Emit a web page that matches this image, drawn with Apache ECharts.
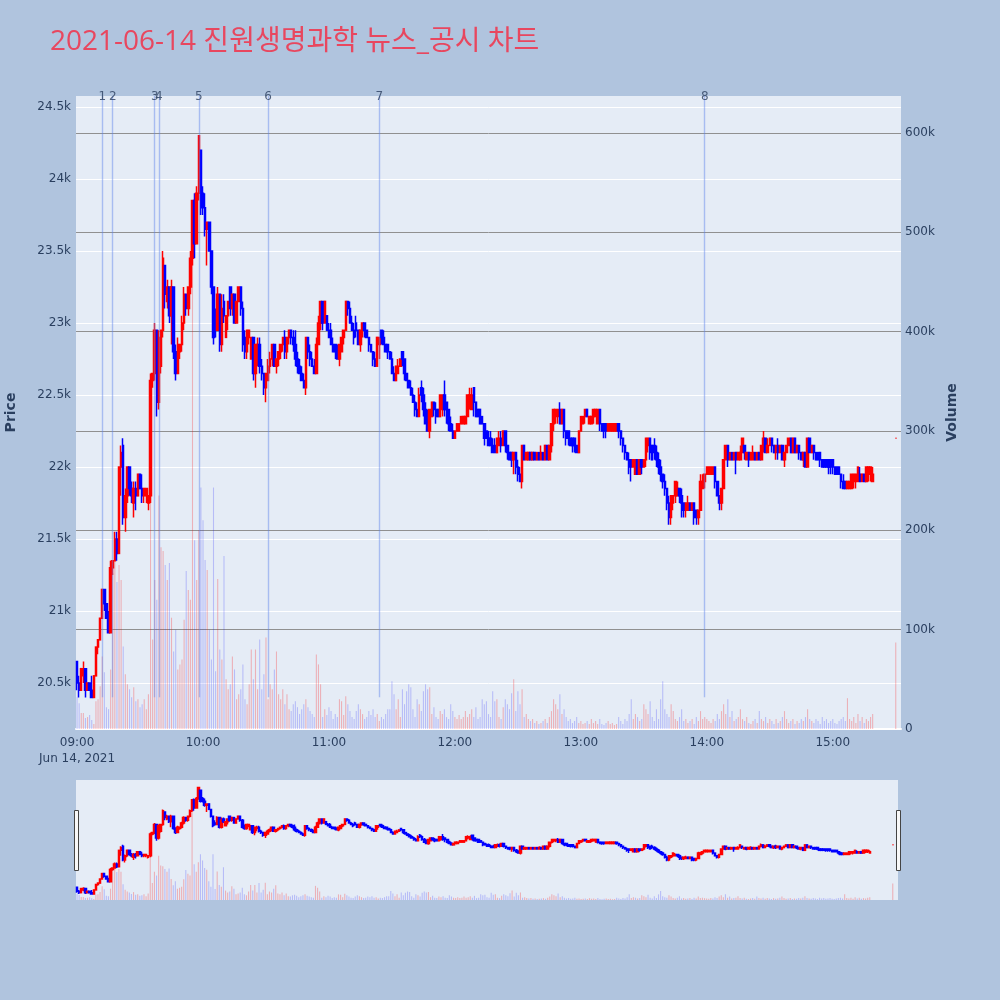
<!DOCTYPE html>
<html>
<head>
<meta charset="utf-8">
<script src="https://cdn.jsdelivr.net/npm/echarts@6/dist/echarts.min.js"></script>
<style>
html,body{margin:0;padding:0;background:#B0C4DE;}
#chart{width:1000px;height:1000px;}
</style>
</head>
<body>
<div id="chart"></div>
<script>
// ---------------- data ----------------
const chartTitle = '2021-06-14 진원생명과학 뉴스_공시 차트';
const dateLabel = 'Jun 14, 2021';
const slotCount = 393;            // one-minute slots from 09:00 to 15:32
// candles[i] = [open, close, low, high] for minute i after 09:00
const candles = [
[20650,20500,20450,20650],[20500,20450,20400,20550],[20450,20600,20450,20600],[20550,20600,20500,20650],[20600,20450,20400,20600],
[20450,20500,20450,20500],[20500,20450,20450,20500],[20450,20400,20400,20550],[20400,20550,20400,20550],[20550,20750,20550,20750],
[20750,20800,20700,20800],[20800,20950,20800,20950],[20950,21150,20950,21150],[21150,21050,21000,21150],[21050,20950,20950,21050],
[20950,20850,20850,21000],[20850,21300,20850,21350],[21300,21350,21250,21350],[21350,21500,21350,21550],[21500,21400,21350,21550],
[21400,22000,21400,22000],[22000,22100,21800,22150],[22150,21650,21600,22200],[21650,21800,21550,21850],[21800,22000,21750,22000],
[22000,21850,21800,22000],[21850,21800,21750,21900],[21750,21850,21650,21900],[21850,21800,21700,21900],[21800,21950,21800,21950],
[21950,21850,21850,21950],[21850,21800,21750,21950],[21800,21850,21750,21850],[21800,21850,21750,21850],[21750,21800,21700,21800],
[21800,22600,21750,22650],[22600,22650,22550,22650],[22650,22950,22600,23000],[22950,22450,22350,22950],[22450,22900,22400,22950],
[22700,22950,22650,22950],[22950,23450,22900,23500],[23400,23200,23100,23400],[23150,23250,23100,23300],[23250,23050,23000,23250],
[23050,23250,22850,23300],[23250,22800,22750,23250],[22800,22650,22600,22850],[22650,22850,22650,22900],[22800,22850,22750,22850],
[22850,23000,22800,23050],[23000,23200,22950,23250],[23200,23100,23050,23200],[23100,23250,23050,23250],[23250,23450,23200,23500],
[23450,23850,23400,23850],[23850,23550,23450,23900],[23550,23900,23550,23950],[23900,24300,23850,24300],[24200,23800,23750,24200],
[23900,23800,23750,23950],[23800,23650,23600,23900],[23650,23700,23400,23700],[23700,23500,23500,23700],[23500,23250,23200,23500],
[23250,22900,22850,23250],[23000,22950,22900,23100],[22950,23200,22950,23250],[23200,22850,22800,23200],[22850,23100,22800,23200],
[23150,23050,23000,23200],[22900,23050,22900,23050],[23050,23150,22950,23150],[23250,23100,23050,23250],[23100,23200,23050,23200],
[23200,23000,23000,23200],[23000,23150,23000,23150],[23150,23250,23150,23250],[23250,23100,23050,23250],[23100,22850,22800,23150],
[22900,22800,22750,22950],[22800,22950,22750,22950],[22900,22950,22850,22950],[22750,22900,22750,22900],[22900,22650,22600,22900],
[22650,22850,22550,22850],[22800,22850,22700,22900],[22850,22700,22650,22900],[22700,22650,22600,22750],[22650,22550,22500,22650],
[22550,22650,22450,22650],[22600,22700,22600,22750],[22700,22750,22650,22800],[22750,22850,22700,22850],[22850,22700,22700,22850],
[22700,22750,22650,22750],[22750,22800,22700,22800],[22800,22850,22750,22850],[22850,22900,22800,22900],[22900,22800,22750,22950],
[22800,22900,22750,22900],[22900,22950,22850,22950],[22950,22900,22850,22950],[22900,22850,22800,22950],[22850,22750,22700,22950],
[22750,22700,22650,22800],[22700,22650,22650,22750],[22650,22600,22600,22700],[22600,22550,22550,22650],[22550,22900,22500,22900],
[22900,22800,22750,22900],[22800,22750,22700,22850],[22750,22700,22700,22800],[22700,22650,22650,22750],[22650,22850,22650,22900],
[22850,23000,22850,23050],[23000,23150,22950,23150],[23150,23000,22950,23150],[23000,23150,23000,23150],[23050,22950,22950,23050],
[22950,22900,22900,23000],[22950,22850,22850,23000],[22850,22800,22800,22900],[22850,22800,22750,22850],[22800,22750,22750,22850],
[22750,22850,22700,22850],[22800,22900,22800,22900],[22900,22950,22850,22950],[22950,23150,22950,23150],[23150,23100,23050,23150],
[23100,23000,23000,23150],[23000,22950,22950,23050],[22950,22900,22850,23000],[23000,22950,22900,23050],[22950,22850,22850,22950],
[22850,22950,22800,22950],[22950,23000,22900,23000],[23000,22950,22900,23000],[22950,22900,22900,22950],[22900,22850,22800,22900],
[22850,22800,22800,22850],[22800,22750,22700,22800],[22750,22700,22700,22800],[22700,22900,22700,22900],[22850,22900,22750,22900],
[22950,22900,22850,22950],[22900,22850,22850,22950],[22850,22800,22800,22850],[22850,22800,22750,22850],[22800,22750,22750,22800],
[22750,22650,22650,22800],[22650,22600,22600,22700],[22600,22700,22600,22700],[22650,22700,22650,22750],[22700,22750,22700,22750],
[22800,22750,22700,22800],[22750,22650,22600,22750],[22650,22600,22600,22650],[22600,22550,22550,22600],[22550,22500,22500,22600],
[22500,22450,22450,22550],[22450,22400,22350,22500],[22400,22350,22350,22450],[22350,22500,22350,22550],[22550,22500,22450,22600],
[22500,22400,22350,22550],[22400,22300,22300,22450],[22300,22250,22250,22400],[22250,22400,22200,22400],[22350,22450,22350,22450],
[22450,22400,22350,22450],[22400,22350,22300,22450],[22400,22350,22350,22400],[22350,22500,22350,22500],[22400,22500,22350,22500],
[22500,22400,22350,22600],[22450,22400,22300,22450],[22400,22300,22250,22400],[22300,22250,22250,22350],[22250,22200,22200,22300],
[22200,22250,22200,22250],[22250,22300,22250,22300],[22250,22300,22250,22300],[22300,22350,22300,22350],[22300,22350,22300,22350],
[22300,22350,22300,22350],[22350,22500,22350,22500],[22450,22500,22400,22550],[22400,22500,22400,22550],[22550,22450,22350,22550],
[22450,22350,22350,22450],[22400,22350,22350,22400],[22400,22300,22300,22400],[22350,22300,22300,22350],[22300,22200,22150,22300],
[22250,22200,22200,22250],[22200,22150,22150,22250],[22200,22150,22150,22250],[22150,22100,22100,22200],[22150,22100,22100,22200],
[22100,22200,22100,22200],[22150,22200,22150,22250],[22200,22150,22100,22250],[22150,22250,22150,22250],[22250,22150,22100,22250],
[22150,22100,22050,22150],[22100,22050,22050,22100],[22100,22050,22000,22100],[22050,22100,21950,22100],[22100,22000,21950,22100],
[22000,21950,21900,22050],[21950,21900,21900,22000],[21900,22150,21850,22150],[22150,22050,22050,22150],[22050,22100,22050,22100],
[22050,22100,22050,22100],[22100,22050,22050,22100],[22050,22100,22050,22100],[22100,22050,22050,22100],[22050,22100,22050,22100],
[22100,22050,22050,22100],[22050,22100,22050,22150],[22100,22050,22050,22100],[22050,22150,22050,22150],[22150,22050,22050,22150],
[22050,22150,22050,22150],[22150,22300,22100,22300],[22300,22400,22250,22400],[22350,22400,22300,22400],[22350,22400,22300,22400],
[22400,22300,22300,22450],[22300,22400,22300,22400],[22400,22250,22200,22400],[22250,22200,22150,22250],[22250,22200,22150,22250],
[22200,22150,22150,22200],[22200,22150,22100,22200],[22200,22150,22100,22200],[22150,22100,22100,22150],[22100,22250,22100,22250],
[22250,22350,22250,22350],[22300,22350,22300,22350],[22350,22400,22300,22400],[22400,22350,22350,22400],[22300,22350,22300,22350],
[22300,22350,22300,22350],[22350,22400,22300,22400],[22350,22400,22350,22400],[22300,22400,22300,22400],[22400,22300,22250,22400],
[22300,22250,22250,22300],[22300,22250,22200,22300],[22300,22250,22200,22300],[22250,22300,22250,22300],[22250,22300,22250,22300],
[22250,22300,22250,22300],[22250,22300,22250,22300],[22250,22300,22250,22300],[22300,22250,22200,22300],[22250,22200,22150,22250],
[22200,22150,22100,22200],[22150,22100,22050,22150],[22100,22050,22050,22100],[22050,22000,21950,22100],[22050,22000,21900,22050],
[22000,22050,22000,22050],[21950,22050,21950,22050],[22050,21950,21950,22050],[21950,22050,21950,22050],[22050,22000,21950,22050],
[22000,22050,22000,22050],[22050,22200,22000,22200],[22150,22200,22100,22200],[22200,22100,22050,22200],[22150,22050,22050,22150],
[22150,22100,22050,22200],[22100,22050,22000,22150],[22050,22000,21950,22100],[22000,21950,21900,22050],[21950,21900,21850,21950],
[21900,21850,21800,21950],[21850,21750,21700,21850],[21750,21650,21600,21800],[21650,21800,21600,21800],[21750,21800,21700,21800],
[21800,21900,21750,21900],[21800,21850,21800,21900],[21850,21800,21750,21850],[21800,21750,21650,21850],[21750,21700,21650,21750],
[21700,21750,21650,21750],[21700,21750,21700,21800],[21750,21700,21700,21750],[21700,21750,21700,21750],[21750,21650,21600,21750],
[21700,21650,21600,21700],[21650,21700,21600,21700],[21700,21900,21700,21950],[21850,21900,21850,21950],[21900,21950,21850,21950],
[21950,22000,21950,22000],[21950,22000,21950,22000],[21950,22000,21950,22000],[21950,22000,21950,22000],[22000,21900,21850,22000],
[21900,21800,21800,21900],[21800,21750,21700,21800],[21750,21850,21700,21850],[21850,22050,21850,22050],[22050,22150,22050,22150],
[22150,22050,22000,22150],[22050,22100,22050,22100],[22100,22050,22050,22100],[22050,22100,22050,22100],[22100,22050,21950,22100],
[22050,22100,22050,22100],[22050,22100,22050,22150],[22100,22200,22100,22200],[22150,22100,22050,22150],[22050,22100,22050,22100],
[22100,22050,22000,22100],[22050,22100,22050,22100],[22050,22100,22050,22150],[22100,22050,22050,22100],[22050,22100,22050,22100],
[22100,22050,22050,22100],[22050,22150,22050,22150],[22150,22200,22100,22250],[22200,22100,22100,22200],[22100,22150,22100,22200],
[22150,22200,22150,22200],[22200,22150,22100,22200],[22150,22100,22100,22150],[22100,22150,22050,22150],[22150,22100,22050,22200],
[22100,22150,22100,22150],[22150,22050,22050,22150],[22050,22100,22000,22100],[22100,22150,22100,22150],[22150,22200,22150,22200],
[22200,22100,22100,22200],[22100,22200,22100,22200],[22200,22100,22100,22200],[22100,22150,22100,22150],[22150,22100,22050,22150],
[22100,22050,22050,22100],[22050,22100,22000,22100],[22100,22000,22000,22100],[22000,22200,22000,22200],[22200,22100,22100,22200],
[22100,22150,22100,22150],[22150,22100,22050,22150],[22100,22050,22050,22100],[22100,22050,22050,22100],[22100,22050,22000,22100],
[22050,22000,22000,22050],[22050,22000,22000,22050],[22050,22000,22000,22050],[22050,22000,21950,22050],[22050,22000,21950,22050],
[22050,22000,21950,22050],[22000,21950,21950,22000],[22000,21950,21950,22000],[22000,21950,21950,22000],[21950,21900,21850,21950],
[21900,21850,21850,21950],[21900,21850,21850,21900],[21850,21900,21850,21900],[21850,21900,21850,21900],[21850,21950,21850,21950],
[21900,21950,21850,21950],[21900,21950,21850,21950],[21900,22000,21900,22000],[21950,21900,21900,22000],[21900,21950,21900,21950],
[21950,21900,21900,21950],[21900,22000,21900,22000],[21950,22000,21900,22000],[21950,22000,21900,22000],[21900,21950,21900,22000]
];
const closingSlot = 390;                        // 15:30 closing auction
const closingCandle = [22200,22200,22200,22200];
const volumes = [
32000,26000,16000,16000,11000,12000,14000,9000,5000,28000,
30000,43000,73000,57000,22000,20000,60000,157000,192000,148000,
165000,150000,83000,55000,45000,40000,32000,42000,28000,30000,
22000,25000,30000,20000,35000,236000,90000,150000,130000,235000,
183000,179000,165000,150000,167000,112000,78000,100000,60000,65000,
70000,110000,159000,140000,130000,520000,190000,150000,200000,243000,
210000,170000,160000,100000,70000,243000,58000,151000,80000,70000,
174000,50000,40000,45000,73000,60000,30000,35000,40000,65000,
30000,25000,45000,80000,50000,80000,40000,90000,40000,55000,
92000,30000,45000,40000,60000,78000,35000,30000,40000,25000,
35000,20000,18000,25000,28000,22000,15000,20000,25000,30000,
22000,18000,15000,12000,75000,65000,45000,12000,20000,14000,
22000,18000,10000,15000,12000,30000,28000,14000,33000,25000,
18000,12000,10000,18000,25000,20000,15000,10000,12000,18000,
14000,20000,12000,15000,8000,12000,10000,15000,20000,20000,
48000,35000,20000,30000,12000,40000,25000,38000,45000,42000,
20000,12000,30000,25000,18000,38000,45000,40000,42000,15000,
22000,12000,10000,18000,15000,20000,12000,10000,25000,18000,
12000,10000,14000,10000,12000,18000,12000,15000,20000,12000,
22000,10000,12000,30000,25000,28000,15000,12000,38000,28000,
30000,12000,10000,22000,30000,25000,20000,36000,50000,18000,
38000,25000,40000,12000,15000,10000,8000,10000,6000,8000,
5000,6000,8000,10000,6000,12000,18000,30000,25000,20000,
35000,15000,20000,12000,8000,10000,6000,8000,12000,6000,
8000,5000,6000,8000,5000,10000,6000,8000,5000,10000,
5000,4000,6000,8000,5000,6000,4000,5000,12000,8000,
5000,10000,8000,15000,30000,10000,15000,12000,8000,10000,
25000,20000,15000,28000,12000,8000,20000,10000,30000,48000,
20000,15000,12000,25000,18000,10000,8000,12000,20000,8000,
10000,6000,8000,10000,5000,12000,8000,18000,10000,12000,
10000,8000,6000,10000,8000,15000,10000,18000,25000,15000,
30000,12000,18000,8000,10000,12000,20000,10000,8000,12000,
6000,5000,8000,10000,6000,18000,10000,8000,12000,6000,
10000,8000,5000,10000,6000,8000,12000,18000,10000,6000,
8000,10000,5000,8000,6000,10000,8000,12000,20000,10000,
8000,6000,10000,8000,5000,12000,8000,10000,6000,8000,
10000,6000,5000,8000,10000,12000,8000,31000,10000,8000,
12000,6000,15000,8000,12000,6000,10000,8000,12000,15000
];
const closingVolume = 87000;
// news / disclosure markers (minute slot after 09:00) and their labels
const newsSlots  = [12, 17, 37, 39, 58, 91, 144, 299];
const newsLabels = ['1','2','3','4','5','6','7','8'];
// axis ranges
const priceMin = 20181, priceMax = 24576, priceStep = 500;
const volMin = 0, volMax = 637000, volStep = 100000;

// ---------------- build ----------------
const cats = [];
for (let i = 0; i < slotCount; i++) {
  const h = 9 + Math.floor(i / 60), mm = i % 60;
  cats.push(String(h).padStart(2, '0') + ':' + String(mm).padStart(2, '0'));
}
const allCandles = candles.map((c, i) => [i, c]).concat([[closingSlot, closingCandle]]);
const allVolumes = volumes.map((v, i) => [i, v]).concat([[closingSlot, closingVolume]]);
function isUp(k) {
  const c = allCandles[k][1];
  if (c[1] !== c[0]) return c[1] > c[0];
  return k === 0 ? true : c[1] >= allCandles[k - 1][1][1];
}
const UP = '#FF0000', DOWN = '#0000FF';
const candleData = allCandles.map((d, k) => {
  const item = { value: [d[0], d[1][0], d[1][1], d[1][2], d[1][3]] };
  if (d[1][0] === d[1][1]) {
    const col = isUp(k) ? UP : DOWN;
    item.itemStyle = { color: col, color0: col, borderColor: col, borderColor0: col };
  }
  return item;
});
const volData = allVolumes.map((d, k) => ({
  value: [d[0], d[1]],
  itemStyle: { color: isUp(k) ? 'rgba(255,0,0,0.25)' : 'rgba(0,0,255,0.2)' }
}));

const FONT = "'DejaVu Sans', Verdana, sans-serif";
const TXT = '#2a3f5f';

const candleStyle = { color: UP, color0: DOWN, borderColor: UP, borderColor0: DOWN, borderWidth: 1.5 };

const option = {
  animation: false,
  backgroundColor: '#B0C4DE',
  title: {
    text: chartTitle, left: 50, top: 28, padding: 0,
    textStyle: { color: '#E8475F', fontSize: 28, fontWeight: 'normal', fontFamily: "'Open Sans','Noto Sans CJK KR',sans-serif" }
  },
  grid: [
    { left: 76, right: 99, top: 96, height: 633, show: true, backgroundColor: '#E5ECF6', borderWidth: 0, containLabel: false, outerBoundsMode: 'none' },
    { left: 76, right: 102, top: 780, height: 120, show: true, backgroundColor: '#E5ECF6', borderWidth: 0, containLabel: false, outerBoundsMode: 'none' }
  ],
  xAxis: [
    {
      type: 'category', data: cats, gridIndex: 0, boundaryGap: true,
      axisLine: { show: true, lineStyle: { color: '#ffffff', width: 2 } },
      axisTick: { show: false }, splitLine: { show: false },
      axisLabel: {
        interval: (idx) => idx % 60 === 0,
        formatter: (val, idx) => idx === 0 ? val + '\n' + dateLabel : val,
        color: TXT, fontSize: 12, fontFamily: FONT, margin: 6, lineHeight: 16
      }
    },
    { type: 'category', data: cats, gridIndex: 1, boundaryGap: true, show: false }
  ],
  yAxis: [
    {
      type: 'value', gridIndex: 0, position: 'left', min: priceMin, max: priceMax,
      minInterval: priceStep, maxInterval: priceStep,
      axisLine: { show: false }, axisTick: { show: false },
      axisLabel: { formatter: v => (v / 1000) + 'k', color: TXT, fontSize: 12, fontFamily: FONT, margin: 5, showMinLabel: false, showMaxLabel: false },
      splitLine: { show: true, showMinLine: false, showMaxLine: false, lineStyle: { color: '#ffffff', width: 1 } },
      name: 'Price', nameLocation: 'middle', nameGap: 58,
      nameTextStyle: { color: TXT, fontSize: 14, fontWeight: 'bold', fontFamily: FONT }
    },
    {
      type: 'value', gridIndex: 0, position: 'right', min: volMin, max: volMax, interval: volStep,
      axisLine: { show: false }, axisTick: { show: false },
      axisLabel: { formatter: v => v === 0 ? '0' : (v / 1000) + 'k', color: TXT, fontSize: 12, fontFamily: FONT, margin: 4, showMaxLabel: false },
      splitLine: { show: true, showMinLine: false, showMaxLine: false, lineStyle: { color: '#909090', width: 1 } },
      name: 'Volume', nameLocation: 'middle', nameGap: 44,
      nameTextStyle: { color: TXT, fontSize: 14, fontWeight: 'bold', fontFamily: FONT }
    },
    { type: 'value', gridIndex: 1, min: priceMin, max: priceMax, show: false, splitLine: { show: false } },
    { type: 'value', gridIndex: 1, min: volMin, max: volMax, show: false, splitLine: { show: false } }
  ],
  series: [
    {
      type: 'bar', xAxisIndex: 0, yAxisIndex: 1, data: volData, barWidth: 1.1, z: 1,
      encode: { x: 0, y: 1 }
    },
    {
      type: 'candlestick', xAxisIndex: 0, yAxisIndex: 0, data: candleData, barWidth: 2, z: 3,
      encode: { x: 0, y: [1, 2, 3, 4] }, itemStyle: candleStyle
    },
    {
      type: 'scatter', xAxisIndex: 0, yAxisIndex: 1, z: 6, clip: false, symbolSize: 1,
      itemStyle: { color: 'transparent' },
      data: newsSlots.map((m, i) => [m, volMax, newsLabels[i]]),
      label: { show: true, position: 'inside', offset: [0, 1], formatter: p => p.value[2], color: TXT, fontSize: 12, fontFamily: FONT },
      markLine: {
        silent: true, symbol: ['none', 'none'], label: { show: false },
        lineStyle: { color: 'rgba(90,130,235,0.45)', width: 1.4, type: 'solid' },
        data: newsSlots.map(m => [{ coord: [m, volMax * 0.05] }, { coord: [m, volMax] }])
      }
    },
    {
      type: 'bar', xAxisIndex: 1, yAxisIndex: 3, data: volData, barWidth: 1.1, z: 1,
      encode: { x: 0, y: 1 }
    },
    {
      type: 'candlestick', xAxisIndex: 1, yAxisIndex: 2, data: candleData, barWidth: 2, z: 3,
      encode: { x: 0, y: [1, 2, 3, 4] }, itemStyle: candleStyle
    }
  ],
  graphic: [
    { type: 'rect', left: 74, top: 810, shape: { width: 4, height: 60 }, style: { fill: '#f8f8f8', stroke: '#444', lineWidth: 1 }, z: 10 },
    { type: 'rect', left: 896, top: 810, shape: { width: 4, height: 60 }, style: { fill: '#f8f8f8', stroke: '#444', lineWidth: 1 }, z: 10 }
  ]
};
const chart = echarts.init(document.getElementById('chart'), null, { renderer: 'canvas' });
chart.setOption(option);
</script>
</body>
</html>
